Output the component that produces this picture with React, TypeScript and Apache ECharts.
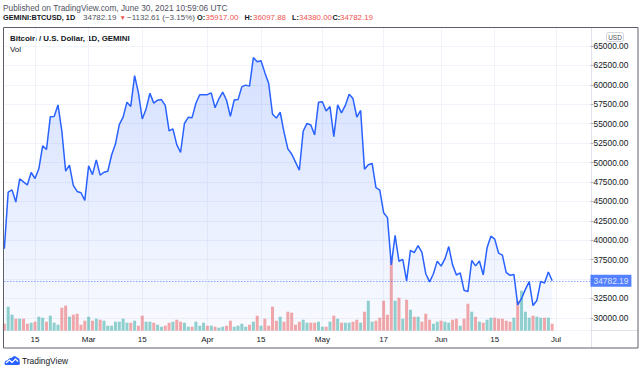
import React, { useEffect, useRef } from 'react';
import * as echarts from 'echarts';

// ---- data ----
const startDate = '2021-02-07';
const totalCategories = 154;
const prevClose = 39266;
const closes = [
  // Feb 7 - Feb 28
  38903, 46196, 46481, 44918, 47909, 47504, 47105, 48717, 47945, 49199, 52149, 51679, 55888, 55923, 57412, 54087, 48891, 49676, 47073, 46276, 46106, 45135,
  // Mar
  49587, 48440, 50349, 48374, 48751, 48882, 50971, 52375, 54884, 55851, 57773, 57221, 61188, 58968, 55605, 56900, 58913, 57648, 58030, 58102, 57351, 54083, 54340, 52303, 51293, 55025, 55817, 55777, 57628, 58730, 58736,
  // Apr
  58735, 58963, 57059, 58206, 59054, 58020, 55947, 58048, 58102, 59774, 59964, 59834, 63503, 62963, 63110, 61572, 60184, 56216, 55724, 56473, 53906, 51762, 51093, 50050, 49004, 54021, 55033, 54824, 53555, 57750,
  // May
  57828, 56631, 57200, 53333, 57424, 56397, 57356, 58803, 58232, 55859, 56704, 49150, 49716, 49880, 46760, 46456, 43538, 42909, 36828, 40627, 37293, 37536, 34770, 38705, 38403, 39295, 38437, 35689, 34647, 35684, 37311,
  // Jun
  36660, 37588, 39187, 36825, 35520, 35797, 33552, 33380, 37389, 36702, 37334, 35546, 39020, 40516, 40144, 38349, 38092, 35820, 35484, 35600, 31676, 32505, 33676, 34663, 31594, 32243, 34700, 34494, 35911, 34782.19,
];
const volumes = [
  7, 24, 16, 12, 12, 12, 7, 8, 9, 14, 13, 9, 15, 8, 6, 23, 25, 14, 16, 17, 6, 10,
  14, 10, 12, 11, 10, 5, 5, 9, 9, 12, 8, 8, 10, 5, 15, 9, 9, 8, 6, 4, 5, 8, 9, 11, 9, 8, 4, 4, 9, 5, 8,
  5, 5, 4, 3, 4, 5, 10, 4, 5, 7, 4, 6, 9, 15, 5, 12, 5, 24, 10, 14, 9, 19, 18, 6, 9, 11, 8, 8, 8, 9,
  4, 4, 9, 15, 12, 8, 8, 8, 9, 11, 8, 19, 30, 9, 10, 13, 30, 16, 74, 30, 33, 12, 31, 21, 14, 14, 9, 17, 11,
  7, 9, 10, 9, 8, 11, 12, 5, 12, 27, 19, 14, 9, 8, 11, 13, 13, 12, 12, 10, 9, 13, 30, 40, 19, 13, 15, 14, 13, 13, 13, 7,
];
const lastPrice = 34782.19;
const priceLabels = [30000, 32500, 37500, 40000, 42500, 45000, 47500, 50000, 52500, 55000, 57500, 60000, 62500, 65000];
const tickLabels: [string, string][] = [
  ['2021-02-15', '15'], ['2021-03-01', 'Mar'], ['2021-03-15', '15'], ['2021-04-01', 'Apr'], ['2021-04-15', '15'],
  ['2021-05-01', 'May'], ['2021-05-17', '17'], ['2021-06-01', 'Jun'], ['2021-06-15', '15'], ['2021-07-01', 'Jul'],
];
const headerLine1 = 'Published on TradingView.com, June 30, 2021 10:59:06 UTC';
const symbolLabel = 'GEMINI:BTCUSD, 1D';
const lastText = '34782.19';
const changeText = '\u22121132.61 (\u22123.15%)';
const ohlcLabels = ['O:', 'H:', 'L:', 'C:'];
const ohlcValues = ['35917.00', '36097.88', '34380.00', '34782.19'];
const chartTitle = 'Bitcoin / U.S. Dollar, 1D, GEMINI';
const volTitle = 'Vol';
const brand = 'TradingView';

const FONT = '"Liberation Sans", Arial, sans-serif';
const RED = '#ef5350';
const DARK = '#131722';

function buildCategories(): string[] {
  const out: string[] = [];
  const d0 = new Date(startDate + 'T00:00:00Z');
  for (let i = 0; i < totalCategories; i++) {
    const d = new Date(d0.getTime() + i * 86400000);
    out.push(d.toISOString().slice(0, 10));
  }
  return out;
}

const LOGO_D =
  'M2 10 C0.5 10 0 8.5 0.8 7.3 C1 5.8 2.5 5.2 3.6 5.6 C4.2 3.6 6 2.6 7.6 3.2 C8.8 1 11.6 0.6 13 2.6 C15 3 16.2 5 15.6 7 C16.4 8 16 10 14.2 10 Z';
let logoRegistered = false;

export default function App() {
  const ref = useRef<HTMLDivElement>(null);
  useEffect(() => {
    if (!ref.current) return;
    if (!logoRegistered) {
      echarts.graphic.registerShape('tvlogo', echarts.graphic.extendPath(LOGO_D, {}) as any);
      logoRegistered = true;
    }
    const chart = echarts.init(ref.current, undefined, { renderer: 'svg' });
    const categories = buildCategories();
    const labelMap: Record<string, string> = {};
    tickLabels.forEach(([d, l]) => (labelMap[d] = l));
    const showTick = (_i: number, v: string) => v in labelMap;

    const volData = volumes.map((v, i) => {
      const prev = i === 0 ? prevClose : closes[i - 1];
      const up = closes[i] >= prev;
      return {
        value: v,
        itemStyle: { color: up ? 'rgba(38,166,154,0.5)' : 'rgba(239,83,80,0.5)' },
      };
    });

    const txt = (text: string, x: number, y: number, size: number, fill: string, weight = 'normal', align = 'left') => ({
      type: 'text',
      x,
      y,
      silent: true,
      style: {
        text,
        fill,
        fontSize: size,
        fontFamily: FONT,
        fontWeight: weight,
        align,
        verticalAlign: 'middle',
      },
    });

    const ohlcX = [[197, 205.5], [244.5, 253], [292, 299], [332.5, 340]];
    const graphics: any[] = [
      txt(headerLine1, 3, 8, 8.3, '#50535e'),
      txt(symbolLabel, 3, 17.5, 7.3, DARK, 'bold'),
      txt(lastText, 83, 17.5, 8.0, '#50535e'),
      txt('\u25BC', 119.5, 17.5, 6.5, RED),
      txt(changeText, 127, 17.5, 8.0, '#50535e'),
      ...ohlcLabels.map((l, i) => txt(l, ohlcX[i][0], 17.5, 7.3, DARK, 'bold')),
      ...ohlcValues.map((v, i) => txt(v, ohlcX[i][1], 17.5, 7.9, RED)),
      txt(chartTitle, 10, 38, 7.9, DARK, 'bold'),
      txt(volTitle, 10, 49, 7.9, DARK),
      {
        type: 'rect',
        silent: true,
        shape: { x: 3.5, y: 27.5, width: 634.5, height: 320.5 },
        style: { fill: 'none', stroke: '#5d606b', lineWidth: 1 },
        z: 10,
      },
      {
        type: 'line',
        silent: true,
        shape: { x1: 591.5, y1: 27.5, x2: 591.5, y2: 348 },
        style: { stroke: '#e0e3eb', lineWidth: 1 },
      },
      {
        type: 'line',
        silent: true,
        shape: { x1: 4, y1: 330.5, x2: 638, y2: 330.5 },
        style: { stroke: '#e0e3eb', lineWidth: 1 },
      },
      {
        type: 'rect',
        silent: true,
        shape: { x: 606.5, y: 32.5, width: 17, height: 9, r: 2 },
        style: { fill: '#fff', stroke: '#d1d4dc', lineWidth: 1 },
        z: 5,
      },
      { ...txt('USD', 615, 37, 6.5, '#50535e', 'normal', 'center'), z: 6 },
      {
        type: 'tvlogo',
        x: 4,
        y: 355,
        scaleX: 1,
        scaleY: 1,
        silent: true,
        style: { fill: '#2962ff' },
      },
      {
        type: 'polyline',
        silent: true,
        shape: { points: [[6, 363], [9.5, 360], [12, 362.5], [15.5, 359], [18, 361.5]] },
        style: { stroke: '#ffffff', lineWidth: 1.2, fill: 'none' },
        z: 3,
      },
      txt(brand, 22, 360.5, 8.4, DARK),
    ];

    chart.setOption({
      animation: false,
      backgroundColor: '#ffffff',
      grid: { left: 4.35, right: 49.5, top: 27, bottom: 41.3, containLabel: false },
      xAxis: {
        type: 'category',
        data: categories,
        boundaryGap: false,
        axisLine: { show: false },
        axisTick: { show: false },
        axisLabel: {
          interval: showTick,
          formatter: (v: string) => labelMap[v] ?? '',
          fontSize: 8,
          color: DARK,
          fontFamily: FONT,
          margin: 5,
        },
        splitLine: { show: true, interval: showTick, lineStyle: { color: '#f0f3fa', width: 1 } },
      },
      yAxis: [
        {
          type: 'value',
          position: 'right',
          min: 28353.4,
          max: 67445.7,
          minInterval: 2500,
          maxInterval: 2500,
          splitNumber: 16,
          axisLine: { show: false },
          axisTick: { show: true, length: 3, lineStyle: { color: '#b2b5be' } },
          axisLabel: {
            margin: 3,
            fontSize: 8.4,
            color: DARK,
            fontFamily: FONT,
            showMinLabel: false,
            showMaxLabel: false,
            formatter: (v: number) => (priceLabels.includes(Math.round(v)) && Math.abs(v - Math.round(v)) < 1e-6 ? v.toFixed(2) : ''),
          },
          splitLine: { show: true, lineStyle: { color: '#f0f3fa', width: 1 } },
        },
        {
          type: 'value',
          min: 0,
          max: 303.7,
          show: false,
          splitLine: { show: false },
        },
      ],
      series: [
        {
          name: 'Vol',
          type: 'bar',
          xAxisIndex: 0,
          yAxisIndex: 1,
          barWidth: 3,
          data: volData,
          z: 1,
          silent: true,
        },
        {
          name: 'BTCUSD',
          type: 'line',
          xAxisIndex: 0,
          yAxisIndex: 0,
          data: closes,
          showSymbol: false,
          symbol: 'none',
          z: 3,
          lineStyle: { color: '#2962ff', width: 1.5 },
          areaStyle: {
            origin: 'start',
            color: new echarts.graphic.LinearGradient(0, 0, 0, 1, [
              { offset: 0, color: 'rgba(41,98,255,0.28)' },
              { offset: 1, color: 'rgba(41,98,255,0.04)' },
            ]),
          },
          markLine: {
            silent: true,
            symbol: ['none', 'none'],
            data: [{ yAxis: lastPrice }],
            lineStyle: { color: '#2962ff', type: [1, 2], width: 1, opacity: 0.8 },
            label: {
              show: true,
              position: 'end',
              distance: 0,
              formatter: lastPrice.toFixed(2),
              backgroundColor: '#2962ff',
              color: '#ffffff',
              fontSize: 8.4,
              fontFamily: FONT,
              padding: [2, 3, 2, 3],
            },
          },
        },
      ],
      graphic: graphics,
    });
    return () => chart.dispose();
  }, []);
  return <div ref={ref} style={{ position: 'absolute', left: 0, top: 0, width: 640, height: 372 }} />;
}
